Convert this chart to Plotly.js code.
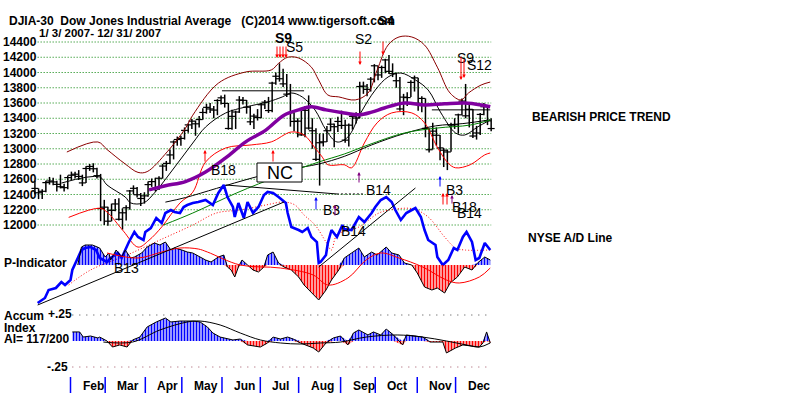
<!DOCTYPE html>
<html><head><meta charset="utf-8">
<script src="https://cdn.plot.ly/plotly-3.0.1.min.js"></script>
<style>html,body{margin:0;padding:0;background:#fff;}#chart{width:800px;height:397px;}</style>
</head><body><div id="chart"></div>
<script>
// ---------- DATA (trading day index: 0 = Jan 3 2007, 250 = Dec 31 2007) ----------
const yTicks = [14400,14200,14000,13800,13600,13400,13200,13000,12800,12600,12400,12200,12000];
const months = ['Feb','Mar','Apr','May','Jun','Jul','Aug','Sep','Oct','Nov','Dec'];
const monthStart = [20,39,61,81,103,124,145,168,187,210,231];

// two-day price bars (high / low / close)
const barHigh = [12580,12480,12470,12580,12630,12620,12580,12660,12540,12650,
12700,12700,12720,12660,12770,12800,12810,12750,12670,12330,
12240,12280,12340,12350,12220,12260,12460,12520,12500,12420,
12430,12570,12610,12620,12640,12800,12840,12990,13110,13160,
13170,13280,13330,13390,13370,13430,13530,13590,13600,13560,
13650,13700,13710,13600,13510,13500,13690,13680,13640,13560,
13460,13520,13600,13640,13680,13880,14000,14121,14050,13980,
13850,13480,13400,13500,13560,13700,13400,13270,13200,13200,
13300,13400,13330,13420,13500,13380,13330,13460,13480,13880,
13880,13850,13940,14110,14090,14090,14180,14230,14120,14000,
13940,13720,13740,13900,13960,13930,13690,13660,13270,13340,
13280,13180,13010,12990,13340,13400,13460,13660,13850,13600,
13520,13300,13470,13600,13560,13400];
const barLow = [12400,12340,12340,12430,12530,12520,12440,12480,12440,12470,
12590,12610,12590,12510,12550,12710,12690,12610,12050,12000,
11990,12050,12180,12060,11940,12060,12200,12400,12360,12250,
12280,12370,12500,12440,12460,12610,12710,12800,12860,13040,
13040,13120,13210,13260,13170,13280,13380,13460,13470,13400,
13440,13580,13540,13250,13250,13260,13470,13580,13460,13310,
13260,13370,13400,13520,13470,13480,13840,13880,13810,13680,
13290,13230,13150,13170,13150,13250,13000,12840,12517,13030,
13090,13230,13020,13220,13260,13080,13030,13250,13330,13400,
13720,13690,13750,13870,13900,13930,13990,13980,13940,13800,
13500,13440,13560,13680,13750,13500,13480,13150,12950,12990,
13040,12850,12760,12720,12960,13260,13200,13440,13400,13280,
13140,13120,13180,13440,13310,13230];
const barClose = [12480,12423,12442,12556,12577,12565,12533,12502,12490,12622,
12653,12666,12637,12552,12741,12768,12738,12647,12216,12234,
12050,12192,12276,12075,12160,12226,12447,12481,12397,12348,
12382,12530,12569,12484,12613,12773,12808,12919,13089,13121,
13136,13241,13313,13362,13327,13383,13476,13543,13522,13507,
13633,13668,13595,13266,13425,13482,13639,13635,13545,13353,
13428,13409,13577,13611,13501,13861,13951,13918,13851,13716,
13473,13358,13362,13182,13504,13271,13236,12861,13079,13091,
13236,13322,13289,13358,13306,13113,13309,13425,13403,13816,
13821,13779,13913,14088,13968,14066,14165,14015,13985,13892,
13522,13677,13671,13870,13930,13595,13660,13267,12987,13231,
13177,13011,12981,12958,13311,13315,13445,13625,13432,13517,
13167,13207,13450,13551,13366,13265];

// bands and moving averages (day, value)
const upperDay = [18,35,40,50,57,62,73,83,87,101,116,130,134,139,145,152,156,161,167,176,183,188,194,200,207,214,221,228,234,238,245,250];
const upperVal = [12957,13089,12990,12800,12690,12700,12960,13270,13440,13860,14007,14033,14120,14200,14190,14070,13900,13705,13680,13640,13730,14030,14360,14466,14466,14360,14070,13730,13640,13730,13836,13875];
const lowerDay = [19,36,40,49,57,63,70,80,87,94,105,119,130,141,148,154,158,161,170,174,181,188,196,207,214,221,227,231,239,247,250];
const lowerVal = [12100,12220,12170,11920,11710,11800,11975,12290,12430,12826,13010,13050,13090,13220,13180,13010,12890,12790,12790,12750,13075,13340,13470,13470,13340,13020,12810,12750,12790,12920,12945];
const ma21Day = [15,36,40,50,53,60,66,73,80,87,94,105,116,128,136,141,147,154,160,166,172,179,187,194,201,209,216,223,231,236,243,250];
const ma21Val = [12550,12630,12525,12367,12289,12289,12420,12630,12852,13075,13285,13469,13548,13613,13679,13731,13679,13508,13246,13089,13154,13469,13770,13941,13993,13902,13770,13469,13207,13180,13285,13377];
const purpleDay = [63,72,83,94,105,116,127,137,145,152,160,170,178,185,192,203,214,225,236,245,250];
const purpleVal = [12460,12515,12570,12695,12880,13090,13245,13440,13510,13550,13510,13470,13445,13480,13535,13600,13575,13590,13600,13575,13550];
const greenDay = [71,87,111,135,156,170,183,203,221,239,250];
const greenVal = [12000,12157,12420,12650,12826,12931,13049,13207,13272,13311,13377];
const longDay = [72,83,100,120,140,156,170,185,203,220,235,250];
const longVal = [12300,12360,12480,12620,12730,12800,12900,13050,13200,13300,13330,13380];

// NYSE A/D line (arbitrary cumulative units) and its moving average
const adDay = [2,6,8,12,15,17,20,21,24,26,28,31,34,36,40,42,46,48,50,52,55,57,60,61,64,67,70,72,75,77,80,82,84,87,90,94,98,101,104,106,109,110,112,115,117,120,123,126,128,131,134,138,139,141,145,147,150,152,155,156,157,160,161,163,166,169,170,174,178,181,185,187,190,193,196,198,201,204,207,209,212,214,216,220,221,224,227,230,232,235,237,240,242,244,247,250];
const adVal = [20,70,150,170,230,200,250,350,470,550,570,580,550,470,430,470,520,470,550,630,730,680,650,730,770,870,820,920,950,930,920,980,1000,1020,1030,1050,1000,1120,1200,1080,980,880,1020,870,1030,920,980,1100,1130,1120,1080,1020,920,780,750,730,770,680,630,420,430,500,620,750,680,800,760,750,880,830,920,980,1050,1080,1030,950,850,920,950,970,880,750,650,600,480,400,450,570,550,680,730,630,450,470,620,550];
const admaDay = [19,31,51,69,87,100,113,127,137,143,148,154,160,163,166,178,189,198,208,216,225,231,236,250];
const admaVal = [200,350,500,650,800,920,950,1000,1030,1000,900,800,630,550,700,780,920,960,960,880,680,570,550,550];

// P-Indicator and its moving average
const pDay = [24,26,28,32,36,39,41,42,45,48,50,53,55,59,62,66,69,72,75,77,81,84,87,94,97,101,104,106,108,110,112,114,117,120,123,126,128,131,134,137,141,145,148,152,156,160,163,167,170,174,178,181,185,188,193,196,200,203,207,210,214,218,221,225,228,232,236,240,243,247,250];
const pVal = [0,180,200,200,170,80,120,50,150,80,150,70,80,120,180,220,200,230,150,170,150,130,120,50,30,80,100,-20,-50,-120,-20,50,0,-50,-70,-20,100,130,20,-20,-50,-120,-200,-270,-350,-250,-150,-50,70,120,170,80,130,100,180,120,100,20,0,-80,-220,-250,-230,-280,-180,-120,-20,-50,20,80,50];
const pmaDay = [40,57,70,80,90,95,113,135,153,161,172,182,190,200,213,226,233,244,250];
const pmaVal = [120,70,130,170,160,130,0,-30,-100,-200,-130,50,120,70,-20,-150,-180,-120,-30];

// Accumulation Index and its moving average
const aiDay = [21,25,27,31,35,36,40,43,47,51,54,58,62,67,72,75,80,87,91,95,98,102,109,113,117,124,128,131,135,139,142,146,153,156,160,164,168,172,175,178,183,186,190,193,197,202,204,210,213,217,224,226,231,235,244,246,248,250];
const aiVal = [0.087,0.087,0.038,0.048,0.029,0.038,0,-0.058,-0.038,-0.058,0.01,0.038,0.135,0.183,0.221,0.183,0.192,0.192,0.183,0.135,0.077,0.038,0.01,0.019,-0.038,-0.058,-0.019,0.038,0.019,0.038,0.019,-0.019,-0.067,-0.106,-0.019,0.029,0.048,-0.038,0.077,0.106,0.058,0.087,0.058,0.115,0.058,-0.038,0.058,0.048,0.038,-0.01,-0.01,-0.115,-0.067,-0.038,-0.058,-0.019,0.087,-0.019];
const aimaDay = [38,54,69,84,91,102,113,124,135,146,157,168,182,199,213,226,237,244,250];
const aimaVal = [-0.01,-0.01,0.106,0.183,0.192,0.154,0.077,0.01,-0.019,-0.029,-0.019,-0.01,0.038,0.058,0.038,0,-0.038,-0.058,-0.019];

// hand-drawn lines: [day0, value0, day1, value1]
const resistLines = [[103,13760,148,13760],[218,13510,250,13510]];
const ncLine = [105,12525,166,12407];
const ncDotted = [166,12407,181,12407];
const adTrend = [[2,0,137,1030],[156,380,209,1170]];

// ---------- GEOMETRY ----------
const W = 800, H = 397;
const X0 = 34, PXD = 1.825;               // pixel of day 0, pixels per trading day
const xRange = [-X0 / PXD, (W - X0) / PXD];
function rng(v1, p1, v2, p2) { const k = (v2 - v1) / (p2 - p1); return [v1 + (H - p1) * k, v1 + (0 - p1) * k]; }
const priceRange = rng(14400, 42, 12000, 225);
const adRange = rng(0, 305, 1000, 205);
const pRange = rng(0, 265, 100, 255);
const aiRange = rng(0, 341, 0.25, 315);
const px = x => x / W, py = y => 1 - y / H;
const FONT = 'Arial, "Liberation Sans", sans-serif';

const traces = [];
// P-Indicator histogram (striped fill)
const stripe = c => ({shape: '|', fgcolor: c, bgcolor: 'rgba(0,0,0,0)', size: 3, solidity: 0.6});
traces.push({x: pDay, y: pVal.map(v => Math.max(v, 0)), yaxis: 'y3', mode: 'lines', line: {width: 0}, fill: 'tozeroy', fillcolor: 'rgba(0,0,0,0)', fillpattern: stripe('#0000ff'), hoverinfo: 'skip'});
traces.push({x: pDay, y: pVal.map(v => Math.min(v, 0)), yaxis: 'y3', mode: 'lines', line: {width: 0}, fill: 'tozeroy', fillcolor: 'rgba(0,0,0,0)', fillpattern: stripe('#ff0000'), hoverinfo: 'skip'});
traces.push({x: pDay, y: pVal, yaxis: 'y3', mode: 'lines', line: {color: '#000', width: 1}});
traces.push({x: pmaDay, y: pmaVal, yaxis: 'y3', mode: 'lines', line: {color: '#ff0000', width: 1, shape: 'spline'}});
// Accum index
traces.push({x: aiDay, y: aiVal.map(v => Math.max(v, 0)), yaxis: 'y4', mode: 'lines', line: {width: 0}, fill: 'tozeroy', fillcolor: 'rgba(0,0,0,0)', fillpattern: stripe('#0000ff'), hoverinfo: 'skip'});
traces.push({x: aiDay, y: aiVal.map(v => Math.min(v, 0)), yaxis: 'y4', mode: 'lines', line: {width: 0}, fill: 'tozeroy', fillcolor: 'rgba(0,0,0,0)', fillpattern: stripe('#ff0000'), hoverinfo: 'skip'});
traces.push({x: aiDay, y: aiVal, yaxis: 'y4', mode: 'lines', line: {color: '#000', width: 1}});
traces.push({x: aimaDay, y: aimaVal, yaxis: 'y4', mode: 'lines', line: {color: '#000', width: 1, shape: 'spline'}});
// price bars
const barX = barClose.map((_, i) => 2 * i + 0.5);
traces.push({x: barX, y: barClose, yaxis: 'y', mode: 'markers',
  marker: {symbol: 'line-ew-open', size: 5, color: '#000', line: {width: 1.2, color: '#000'}},
  error_y: {type: 'data', symmetric: false, array: barHigh.map((h, i) => h - barClose[i]), arrayminus: barLow.map((l, i) => barClose[i] - l), width: 0, thickness: 1.5, color: '#000'}});
// bands and averages
traces.push({x: upperDay, y: upperVal, yaxis: 'y', mode: 'lines', line: {color: '#8b0000', width: 1, shape: 'spline'}});
traces.push({x: lowerDay, y: lowerVal, yaxis: 'y', mode: 'lines', line: {color: '#ff0000', width: 1, shape: 'spline'}});
traces.push({x: ma21Day, y: ma21Val, yaxis: 'y', mode: 'lines', line: {color: '#000', width: 1, shape: 'spline'}});
traces.push({x: longDay, y: longVal, yaxis: 'y', mode: 'lines', line: {color: '#000', width: 1, shape: 'spline'}});
traces.push({x: greenDay, y: greenVal, yaxis: 'y', mode: 'lines', line: {color: '#008000', width: 1, shape: 'spline'}});
traces.push({x: purpleDay, y: purpleVal, yaxis: 'y', mode: 'lines', line: {color: '#8000a0', width: 3.5, shape: 'spline'}});
// A/D line
traces.push({x: admaDay, y: admaVal, yaxis: 'y2', mode: 'lines', line: {color: '#ff0000', width: 1, dash: '1px,2px', shape: 'spline'}});
traces.push({x: adDay, y: adVal, yaxis: 'y2', mode: 'lines', line: {color: '#0000ff', width: 2.6}});

// ---------- SHAPES ----------
const shapes = [];
yTicks.forEach(v => shapes.push({type: 'line', layer: 'below', xref: 'x', yref: 'y', x0: 2, x1: 250.5, y0: v, y1: v, line: {color: '#008000', width: 1, dash: '1px,2px'}}));
shapes.push({type: 'line', layer: 'below', xref: 'x', yref: 'y4', x0: 21, x1: 250, y0: 0.25, y1: 0.25, line: {color: '#444', width: 1, dash: '1px,6px'}});
shapes.push({type: 'line', layer: 'below', xref: 'x', yref: 'y4', x0: 21, x1: 250, y0: -0.25, y1: -0.25, line: {color: '#a05060', width: 1, dash: '1px,6px'}});
resistLines.forEach(l => shapes.push({type: 'line', xref: 'x', yref: 'y', x0: l[0], y0: l[1], x1: l[2], y1: l[3], line: {color: '#000', width: 1}}));
shapes.push({type: 'line', xref: 'x', yref: 'y', x0: ncLine[0], y0: ncLine[1], x1: ncLine[2], y1: ncLine[3], line: {color: '#000', width: 1}});
shapes.push({type: 'line', xref: 'x', yref: 'y', x0: ncDotted[0], y0: ncDotted[1], x1: ncDotted[2], y1: ncDotted[3], line: {color: '#000', width: 1, dash: '2px,2px'}});
adTrend.forEach(l => shapes.push({type: 'line', xref: 'x', yref: 'y2', x0: l[0], y0: l[1], x1: l[2], y1: l[3], line: {color: '#000', width: 1}}));
monthStart.forEach(d => shapes.push({type: 'line', xref: 'x', yref: 'paper', x0: d, x1: d, y0: py(393), y1: py(377), line: {color: '#0000ff', width: 1.5}}));
// NC box
shapes.push({type: 'rect', xref: 'paper', yref: 'paper', x0: px(257), x1: px(302), y0: py(182), y1: py(163), line: {color: '#000', width: 1}, fillcolor: '#fff'});

// ---------- ANNOTATIONS ----------
const ann = [];
function txt(s, x, y, o) {
  o = o || {};
  ann.push({xref: 'paper', yref: 'paper', x: px(x), y: py(y), text: s, showarrow: false,
    xanchor: o.anchor || 'left', yanchor: 'middle',
    font: {family: FONT, size: o.size || 12, color: o.color || '#000'}});
}
function arrow(x, tip, tail, color) {
  ann.push({xref: 'paper', yref: 'paper', x: px(x), y: py(tip), ax: 0, ay: tail - tip, text: '', showarrow: true,
    arrowhead: 2, arrowsize: 0.7, arrowwidth: 1, arrowcolor: color});
}
const nb = s => s.replace(/ /g, '\u00a0');
txt('<b>' + nb('DJIA-30  Dow Jones Industrial Average   (C)2014 www.tigersoft.com') + '</b>', 7, 21, {size: 12});
txt('<b>' + nb('1/ 3/ 2007- 12/ 31/ 2007') + '</b>', 37, 33, {size: 11.5});
yTicks.forEach(v => ann.push({xref: 'paper', yref: 'y', x: px(39), y: v, xanchor: 'right', yanchor: 'middle', text: '<b>' + v + '</b>', showarrow: false, font: {family: FONT, size: 12, color: '#000'}}));
txt('<b>BEARISH PRICE TREND</b>', 530, 117);
txt('<b>NYSE A/D Line</b>', 526, 238);
txt('<b>P-Indicator</b>', 2, 263);
txt('<b>Accum</b>', 2, 316);
txt('<b>Index</b>', 2, 328);
txt('<b>AI= 117/200</b>', 2, 339);
txt('<b>+.25</b>', 46, 314);
txt('<b>-.25</b>', 45, 367);
months.forEach((m, i) => ann.push({xref: 'x', yref: 'paper', x: monthStart[i], y: py(386), xanchor: 'left', yanchor: 'middle', xshift: 10, text: '<b>' + m + '</b>', showarrow: false, font: {family: FONT, size: 12, color: '#000'}}));
// signals
txt('<b>S9</b>', 273, 38, {size: 14});
txt('S5', 284, 47, {size: 14});
txt('S2', 353, 39, {size: 14});
txt('<b>S4</b>', 376, 21, {size: 13});
txt('S9', 455, 58, {size: 14});
txt('S12', 465, 65, {size: 14});
txt('B18', 209, 170, {size: 14});
txt('NC', 279.5, 173, {size: 18, anchor: 'center'});
txt('B14', 364, 190, {size: 14});
txt('B3', 321, 210, {size: 14});
txt('B14', 339, 231, {size: 14});
txt('B3', 444, 190, {size: 14});
txt('B18', 450, 207, {size: 14});
txt('B14', 455, 213, {size: 14});
txt('B13', 112, 268, {size: 14});
[277, 280, 283, 286].forEach(x => arrow(x, 58, 45, '#ff0000'));
arrow(360, 65, 50, '#ff0000');
arrow(383, 55, 40, '#ff0000');
arrow(461, 80, 55, '#ff0000');
arrow(464, 78, 58, '#ff0000');
arrow(205, 150, 163, '#ff0000');
arrow(273, 150, 163, '#ff0000');
arrow(359, 172, 184, '#800080');
arrow(316, 197, 211, '#0000ff');
arrow(335, 205, 217, '#800080');
arrow(440, 176, 188, '#0000ff');
arrow(443, 193, 206, '#ff0000');
arrow(447, 193, 206, '#ff0000');
arrow(452, 195, 205, '#800080');

const ax = r => ({range: r, visible: false, fixedrange: true, domain: [0, 1]});
const layout = {
  width: W, height: H, margin: {l: 0, r: 0, t: 0, b: 0},
  paper_bgcolor: '#fff', plot_bgcolor: 'rgba(0,0,0,0)', showlegend: false,
  xaxis: {range: xRange, visible: false, fixedrange: true, domain: [0, 1]},
  yaxis: ax(priceRange),
  yaxis2: Object.assign(ax(adRange), {overlaying: 'y'}),
  yaxis3: Object.assign(ax(pRange), {overlaying: 'y'}),
  yaxis4: Object.assign(ax(aiRange), {overlaying: 'y'}),
  shapes: shapes, annotations: ann, hovermode: false
};
Plotly.newPlot('chart', traces, layout, {staticPlot: true, displayModeBar: false});
</script></body></html>
